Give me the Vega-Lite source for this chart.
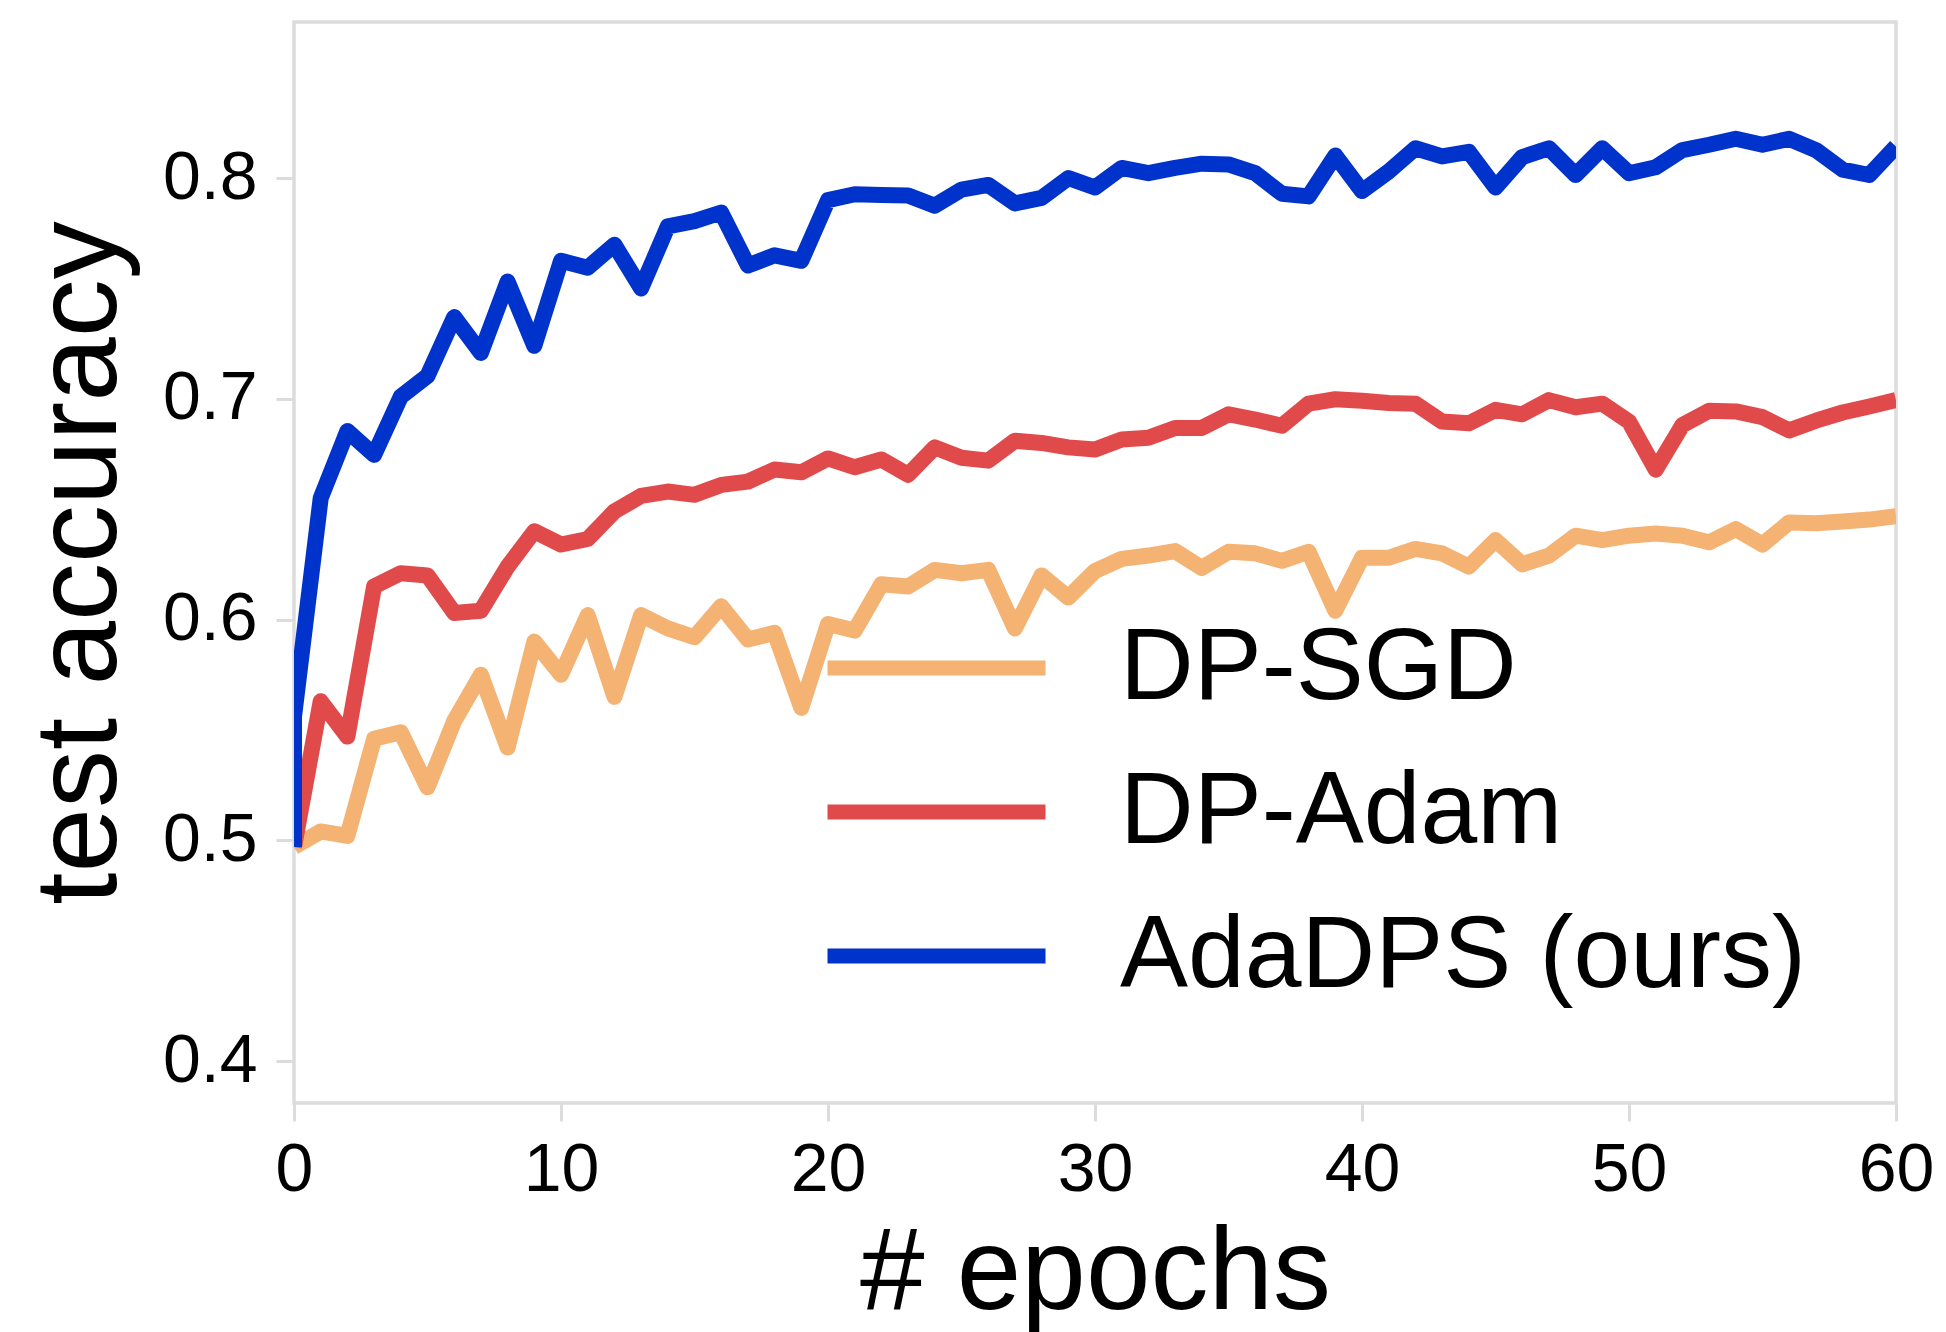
{
  "$schema": "https://vega.github.io/schema/vega-lite/v6.json",
  "autosize": {"type": "none"},
  "padding": {"left": 294, "top": 22, "right": 50, "bottom": 229},
  "width": 1602,
  "height": 1081,
  "background": "white",
  "config": {
    "view": {"stroke": "#dcdcdc", "strokeWidth": 3.5},
    "font": "Liberation Sans",
    "axis": {
      "labelFont": "Liberation Sans", "titleFont": "Liberation Sans",
      "labelFontSize": 68, "titleFontSize": 116, "labelColor": "#000000", "titleColor": "#000000",
      "titleFontWeight": "normal", "tickColor": "#dcdcdc", "tickWidth": 3, "tickSize": 18,
      "domain": false, "grid": false
    },
    "legend": {
      "orient": "none", "legendX": 526, "legendY": 594,
      "symbolType": "stroke", "symbolSize": 47524, "symbolStrokeWidth": 15,
      "labelFont": "Liberation Sans", "labelFontSize": 102, "labelColor": "#000000", "labelLimit": 0,
      "labelOffset": 67, "rowPadding": 40, "clipHeight": 104, "padding": 0
    }
  },
  "data": {"values": [
    {"method":"DP-SGD","step":0,"epoch":0,"accuracy":0.497},
    {"method":"DP-SGD","step":1,"epoch":1,"accuracy":0.504},
    {"method":"DP-SGD","step":2,"epoch":2,"accuracy":0.502},
    {"method":"DP-SGD","step":3,"epoch":3,"accuracy":0.546},
    {"method":"DP-SGD","step":4,"epoch":4,"accuracy":0.549},
    {"method":"DP-SGD","step":5,"epoch":5,"accuracy":0.524},
    {"method":"DP-SGD","step":6,"epoch":6,"accuracy":0.554},
    {"method":"DP-SGD","step":7,"epoch":7,"accuracy":0.575},
    {"method":"DP-SGD","step":8,"epoch":8,"accuracy":0.542},
    {"method":"DP-SGD","step":9,"epoch":9,"accuracy":0.590},
    {"method":"DP-SGD","step":10,"epoch":10,"accuracy":0.575},
    {"method":"DP-SGD","step":11,"epoch":11,"accuracy":0.602},
    {"method":"DP-SGD","step":12,"epoch":12,"accuracy":0.565},
    {"method":"DP-SGD","step":13,"epoch":13,"accuracy":0.602},
    {"method":"DP-SGD","step":14,"epoch":14,"accuracy":0.596},
    {"method":"DP-SGD","step":15,"epoch":15,"accuracy":0.592},
    {"method":"DP-SGD","step":16,"epoch":16,"accuracy":0.606},
    {"method":"DP-SGD","step":17,"epoch":17,"accuracy":0.591},
    {"method":"DP-SGD","step":18,"epoch":18,"accuracy":0.594},
    {"method":"DP-SGD","step":19,"epoch":19,"accuracy":0.560},
    {"method":"DP-SGD","step":20,"epoch":20,"accuracy":0.598},
    {"method":"DP-SGD","step":21,"epoch":21,"accuracy":0.595},
    {"method":"DP-SGD","step":22,"epoch":22,"accuracy":0.616},
    {"method":"DP-SGD","step":23,"epoch":23,"accuracy":0.615},
    {"method":"DP-SGD","step":24,"epoch":24,"accuracy":0.6225},
    {"method":"DP-SGD","step":25,"epoch":25,"accuracy":0.621},
    {"method":"DP-SGD","step":26,"epoch":26,"accuracy":0.6225},
    {"method":"DP-SGD","step":27,"epoch":27,"accuracy":0.596},
    {"method":"DP-SGD","step":28,"epoch":28,"accuracy":0.620},
    {"method":"DP-SGD","step":29,"epoch":29,"accuracy":0.610},
    {"method":"DP-SGD","step":30,"epoch":30,"accuracy":0.622},
    {"method":"DP-SGD","step":31,"epoch":31,"accuracy":0.6275},
    {"method":"DP-SGD","step":32,"epoch":32,"accuracy":0.629},
    {"method":"DP-SGD","step":33,"epoch":33,"accuracy":0.631},
    {"method":"DP-SGD","step":34,"epoch":34,"accuracy":0.6234},
    {"method":"DP-SGD","step":35,"epoch":35,"accuracy":0.6307},
    {"method":"DP-SGD","step":36,"epoch":36,"accuracy":0.630},
    {"method":"DP-SGD","step":37,"epoch":37,"accuracy":0.6266},
    {"method":"DP-SGD","step":38,"epoch":38,"accuracy":0.6307},
    {"method":"DP-SGD","step":39,"epoch":39,"accuracy":0.604},
    {"method":"DP-SGD","step":40,"epoch":40,"accuracy":0.628},
    {"method":"DP-SGD","step":41,"epoch":41,"accuracy":0.628},
    {"method":"DP-SGD","step":42,"epoch":42,"accuracy":0.632},
    {"method":"DP-SGD","step":43,"epoch":43,"accuracy":0.630},
    {"method":"DP-SGD","step":44,"epoch":44,"accuracy":0.624},
    {"method":"DP-SGD","step":45,"epoch":45,"accuracy":0.636},
    {"method":"DP-SGD","step":46,"epoch":46,"accuracy":0.625},
    {"method":"DP-SGD","step":47,"epoch":47,"accuracy":0.629},
    {"method":"DP-SGD","step":48,"epoch":48,"accuracy":0.638},
    {"method":"DP-SGD","step":49,"epoch":49,"accuracy":0.636},
    {"method":"DP-SGD","step":50,"epoch":50,"accuracy":0.638},
    {"method":"DP-SGD","step":51,"epoch":51,"accuracy":0.639},
    {"method":"DP-SGD","step":52,"epoch":52,"accuracy":0.638},
    {"method":"DP-SGD","step":53,"epoch":53,"accuracy":0.635},
    {"method":"DP-SGD","step":54,"epoch":54,"accuracy":0.641},
    {"method":"DP-SGD","step":55,"epoch":55,"accuracy":0.634},
    {"method":"DP-SGD","step":56,"epoch":56,"accuracy":0.644},
    {"method":"DP-SGD","step":57,"epoch":57,"accuracy":0.6436},
    {"method":"DP-SGD","step":58,"epoch":58,"accuracy":0.6444},
    {"method":"DP-SGD","step":59,"epoch":59,"accuracy":0.6453},
    {"method":"DP-SGD","step":60,"epoch":60,"accuracy":0.6468},
    {"method":"DP-Adam","step":0,"epoch":0,"accuracy":0.497},
    {"method":"DP-Adam","step":1,"epoch":1,"accuracy":0.563},
    {"method":"DP-Adam","step":2,"epoch":2,"accuracy":0.547},
    {"method":"DP-Adam","step":3,"epoch":3,"accuracy":0.615},
    {"method":"DP-Adam","step":4,"epoch":4,"accuracy":0.621},
    {"method":"DP-Adam","step":5,"epoch":5,"accuracy":0.620},
    {"method":"DP-Adam","step":6,"epoch":6,"accuracy":0.603},
    {"method":"DP-Adam","step":7,"epoch":7,"accuracy":0.604},
    {"method":"DP-Adam","step":8,"epoch":8,"accuracy":0.624},
    {"method":"DP-Adam","step":9,"epoch":9,"accuracy":0.640},
    {"method":"DP-Adam","step":10,"epoch":10,"accuracy":0.634},
    {"method":"DP-Adam","step":11,"epoch":11,"accuracy":0.6365},
    {"method":"DP-Adam","step":12,"epoch":12,"accuracy":0.649},
    {"method":"DP-Adam","step":13,"epoch":13,"accuracy":0.656},
    {"method":"DP-Adam","step":14,"epoch":14,"accuracy":0.658},
    {"method":"DP-Adam","step":15,"epoch":15,"accuracy":0.6565},
    {"method":"DP-Adam","step":16,"epoch":16,"accuracy":0.661},
    {"method":"DP-Adam","step":17,"epoch":17,"accuracy":0.6625},
    {"method":"DP-Adam","step":18,"epoch":18,"accuracy":0.668},
    {"method":"DP-Adam","step":19,"epoch":19,"accuracy":0.6667},
    {"method":"DP-Adam","step":20,"epoch":20,"accuracy":0.673},
    {"method":"DP-Adam","step":21,"epoch":21,"accuracy":0.669},
    {"method":"DP-Adam","step":22,"epoch":22,"accuracy":0.6725},
    {"method":"DP-Adam","step":23,"epoch":23,"accuracy":0.6656},
    {"method":"DP-Adam","step":24,"epoch":24,"accuracy":0.678},
    {"method":"DP-Adam","step":25,"epoch":25,"accuracy":0.6733},
    {"method":"DP-Adam","step":26,"epoch":26,"accuracy":0.672},
    {"method":"DP-Adam","step":27,"epoch":27,"accuracy":0.681},
    {"method":"DP-Adam","step":28,"epoch":28,"accuracy":0.680},
    {"method":"DP-Adam","step":29,"epoch":29,"accuracy":0.678},
    {"method":"DP-Adam","step":30,"epoch":30,"accuracy":0.677},
    {"method":"DP-Adam","step":31,"epoch":31,"accuracy":0.6816},
    {"method":"DP-Adam","step":32,"epoch":32,"accuracy":0.6824},
    {"method":"DP-Adam","step":33,"epoch":33,"accuracy":0.6868},
    {"method":"DP-Adam","step":34,"epoch":34,"accuracy":0.6868},
    {"method":"DP-Adam","step":35,"epoch":35,"accuracy":0.693},
    {"method":"DP-Adam","step":36,"epoch":36,"accuracy":0.6906},
    {"method":"DP-Adam","step":37,"epoch":37,"accuracy":0.6878},
    {"method":"DP-Adam","step":38,"epoch":38,"accuracy":0.6978},
    {"method":"DP-Adam","step":39,"epoch":39,"accuracy":0.6998},
    {"method":"DP-Adam","step":40,"epoch":40,"accuracy":0.6991},
    {"method":"DP-Adam","step":41,"epoch":41,"accuracy":0.6981},
    {"method":"DP-Adam","step":42,"epoch":42,"accuracy":0.6978},
    {"method":"DP-Adam","step":43,"epoch":43,"accuracy":0.6897},
    {"method":"DP-Adam","step":44,"epoch":44,"accuracy":0.6889},
    {"method":"DP-Adam","step":45,"epoch":45,"accuracy":0.695},
    {"method":"DP-Adam","step":46,"epoch":46,"accuracy":0.693},
    {"method":"DP-Adam","step":47,"epoch":47,"accuracy":0.6994},
    {"method":"DP-Adam","step":48,"epoch":48,"accuracy":0.6962},
    {"method":"DP-Adam","step":49,"epoch":49,"accuracy":0.6978},
    {"method":"DP-Adam","step":50,"epoch":50,"accuracy":0.6897},
    {"method":"DP-Adam","step":51,"epoch":51,"accuracy":0.6679},
    {"method":"DP-Adam","step":52,"epoch":52,"accuracy":0.6881},
    {"method":"DP-Adam","step":53,"epoch":53,"accuracy":0.6946},
    {"method":"DP-Adam","step":54,"epoch":54,"accuracy":0.6943},
    {"method":"DP-Adam","step":55,"epoch":55,"accuracy":0.6917},
    {"method":"DP-Adam","step":56,"epoch":56,"accuracy":0.6857},
    {"method":"DP-Adam","step":57,"epoch":57,"accuracy":0.6901},
    {"method":"DP-Adam","step":58,"epoch":58,"accuracy":0.6938},
    {"method":"DP-Adam","step":59,"epoch":59,"accuracy":0.6965},
    {"method":"DP-Adam","step":60,"epoch":60,"accuracy":0.6994},
    {"method":"AdaDPS (ours)","step":0,"epoch":0,"accuracy":0.497},
    {"method":"AdaDPS (ours)","step":1,"epoch":0,"accuracy":0.556},
    {"method":"AdaDPS (ours)","step":2,"epoch":1,"accuracy":0.655},
    {"method":"AdaDPS (ours)","step":3,"epoch":2,"accuracy":0.6854},
    {"method":"AdaDPS (ours)","step":4,"epoch":3,"accuracy":0.6746},
    {"method":"AdaDPS (ours)","step":5,"epoch":4,"accuracy":0.701},
    {"method":"AdaDPS (ours)","step":6,"epoch":5,"accuracy":0.7104},
    {"method":"AdaDPS (ours)","step":7,"epoch":6,"accuracy":0.737},
    {"method":"AdaDPS (ours)","step":8,"epoch":7,"accuracy":0.7208},
    {"method":"AdaDPS (ours)","step":9,"epoch":8,"accuracy":0.7531},
    {"method":"AdaDPS (ours)","step":10,"epoch":9,"accuracy":0.724},
    {"method":"AdaDPS (ours)","step":11,"epoch":10,"accuracy":0.7625},
    {"method":"AdaDPS (ours)","step":12,"epoch":11,"accuracy":0.7594},
    {"method":"AdaDPS (ours)","step":13,"epoch":12,"accuracy":0.7698},
    {"method":"AdaDPS (ours)","step":14,"epoch":13,"accuracy":0.750},
    {"method":"AdaDPS (ours)","step":15,"epoch":14,"accuracy":0.7781},
    {"method":"AdaDPS (ours)","step":16,"epoch":15,"accuracy":0.7805},
    {"method":"AdaDPS (ours)","step":17,"epoch":16,"accuracy":0.7844},
    {"method":"AdaDPS (ours)","step":18,"epoch":17,"accuracy":0.7604},
    {"method":"AdaDPS (ours)","step":19,"epoch":18,"accuracy":0.765},
    {"method":"AdaDPS (ours)","step":20,"epoch":19,"accuracy":0.7625},
    {"method":"AdaDPS (ours)","step":21,"epoch":20,"accuracy":0.790},
    {"method":"AdaDPS (ours)","step":22,"epoch":21,"accuracy":0.7927},
    {"method":"AdaDPS (ours)","step":23,"epoch":22,"accuracy":0.7923},
    {"method":"AdaDPS (ours)","step":24,"epoch":23,"accuracy":0.7921},
    {"method":"AdaDPS (ours)","step":25,"epoch":24,"accuracy":0.7875},
    {"method":"AdaDPS (ours)","step":26,"epoch":25,"accuracy":0.7948},
    {"method":"AdaDPS (ours)","step":27,"epoch":26,"accuracy":0.7969},
    {"method":"AdaDPS (ours)","step":28,"epoch":27,"accuracy":0.7885},
    {"method":"AdaDPS (ours)","step":29,"epoch":28,"accuracy":0.791},
    {"method":"AdaDPS (ours)","step":30,"epoch":29,"accuracy":0.800},
    {"method":"AdaDPS (ours)","step":31,"epoch":30,"accuracy":0.7957},
    {"method":"AdaDPS (ours)","step":32,"epoch":31,"accuracy":0.8046},
    {"method":"AdaDPS (ours)","step":33,"epoch":32,"accuracy":0.8022},
    {"method":"AdaDPS (ours)","step":34,"epoch":33,"accuracy":0.8046},
    {"method":"AdaDPS (ours)","step":35,"epoch":34,"accuracy":0.8065},
    {"method":"AdaDPS (ours)","step":36,"epoch":35,"accuracy":0.8062},
    {"method":"AdaDPS (ours)","step":37,"epoch":36,"accuracy":0.8022},
    {"method":"AdaDPS (ours)","step":38,"epoch":37,"accuracy":0.7929},
    {"method":"AdaDPS (ours)","step":39,"epoch":38,"accuracy":0.7917},
    {"method":"AdaDPS (ours)","step":40,"epoch":39,"accuracy":0.8102},
    {"method":"AdaDPS (ours)","step":41,"epoch":40,"accuracy":0.7941},
    {"method":"AdaDPS (ours)","step":42,"epoch":41,"accuracy":0.803},
    {"method":"AdaDPS (ours)","step":43,"epoch":42,"accuracy":0.8135},
    {"method":"AdaDPS (ours)","step":44,"epoch":43,"accuracy":0.8098},
    {"method":"AdaDPS (ours)","step":45,"epoch":44,"accuracy":0.8119},
    {"method":"AdaDPS (ours)","step":46,"epoch":45,"accuracy":0.7957},
    {"method":"AdaDPS (ours)","step":47,"epoch":46,"accuracy":0.8095},
    {"method":"AdaDPS (ours)","step":48,"epoch":47,"accuracy":0.8135},
    {"method":"AdaDPS (ours)","step":49,"epoch":48,"accuracy":0.8014},
    {"method":"AdaDPS (ours)","step":50,"epoch":49,"accuracy":0.8135},
    {"method":"AdaDPS (ours)","step":51,"epoch":50,"accuracy":0.8022},
    {"method":"AdaDPS (ours)","step":52,"epoch":51,"accuracy":0.8049},
    {"method":"AdaDPS (ours)","step":53,"epoch":52,"accuracy":0.8127},
    {"method":"AdaDPS (ours)","step":54,"epoch":53,"accuracy":0.8151},
    {"method":"AdaDPS (ours)","step":55,"epoch":54,"accuracy":0.8178},
    {"method":"AdaDPS (ours)","step":56,"epoch":55,"accuracy":0.8151},
    {"method":"AdaDPS (ours)","step":57,"epoch":56,"accuracy":0.8178},
    {"method":"AdaDPS (ours)","step":58,"epoch":57,"accuracy":0.8127},
    {"method":"AdaDPS (ours)","step":59,"epoch":58,"accuracy":0.8038},
    {"method":"AdaDPS (ours)","step":60,"epoch":59,"accuracy":0.8014},
    {"method":"AdaDPS (ours)","step":61,"epoch":60,"accuracy":0.8143}
  ]},
  "mark": {"type": "line", "strokeWidth": 16, "strokeJoin": "round", "strokeCap": "butt", "clip": true},
  "encoding": {
    "x": {"field": "epoch", "type": "quantitative",
      "scale": {"domain": [0, 60], "nice": false, "zero": false},
      "axis": {"values": [0, 10, 20, 30, 40, 50, 60], "title": "# epochs", "labelPadding": 15, "labelFlush": false,
        "titleX": 801, "titleY": 205, "titleBaseline": "alphabetic", "titleAlign": "center"}},
    "y": {"field": "accuracy", "type": "quantitative",
      "scale": {"domain": [0.381, 0.8707], "nice": false, "zero": false},
      "axis": {"values": [0.4, 0.5, 0.6, 0.7, 0.8], "format": ".1f", "title": "test accuracy", "labelPadding": 19,
        "titleAngle": -90, "titleX": -179, "titleY": 540.5, "titleBaseline": "alphabetic", "titleAlign": "center"}},
    "color": {"field": "method", "type": "nominal",
      "scale": {"domain": ["DP-SGD", "DP-Adam", "AdaDPS (ours)"], "range": ["#f4b273", "#e14a4a", "#0033cc"]},
      "legend": {"title": null}},
    "order": {"field": "step", "type": "quantitative"}
  }
}
